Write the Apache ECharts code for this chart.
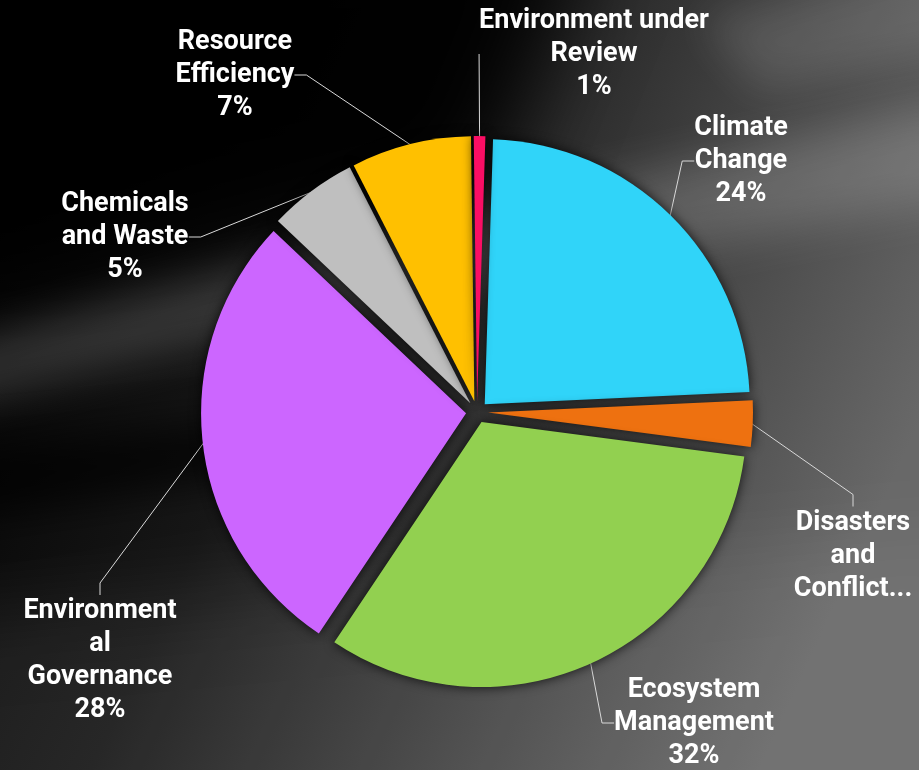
<!DOCTYPE html>
<html>
<head>
<meta charset="utf-8">
<title>Pie</title>
<script src="https://cdn.jsdelivr.net/npm/echarts@6/dist/echarts.min.js"></script>
<style>
    html, body { margin: 0; padding: 0; background: #111; }
    #main { width: 919px; height: 770px; }
</style>
</head>
<body>
<div id="main"></div>
<script>
    var categories = ['Climate Change', 'Disasters and Conflict', 'Ecosystem Management',
        'Environmental Governance', 'Chemicals and Waste', 'Resource Efficiency', 'Environment under Review'];
    var values = [23.7, 2.8, 32.2, 27.6, 5.4, 7.3, 0.7];
    var labelTexts = ['Climate\nChange', 'Disasters\nand\nConflict...', 'Ecosystem\nManagement',
        'Environment\nal\nGovernance', 'Chemicals\nand Waste', 'Resource\nEfficiency', 'Environment under\nReview'];
    var showPercent = [true, false, true, true, true, true, true];
    var colors = ['#30d4f9', '#ee7110', '#92d050', '#cc66ff', '#bfbfbf', '#ffc000', '#fb0e64'];

    // where each label sits (centre of the text block)
    var labelPos = [[741, 161], [853, 556], [694, 723], [100, 661], [125, 237], [235, 75], [594, 54]];

    var myChart = echarts.init(document.getElementById('main'));

    var sliceData = [];
    var labelData = [];
    for (var i = 0; i < categories.length; i++) {
        sliceData.push({
            name: categories[i],
            value: values[i],
            selected: true,
            itemStyle: { color: colors[i] }
        });
        labelData.push({ name: categories[i], value: values[i] });
    }

    // soft background shapes: drawn off screen, only their blurred shadow shows
    function glow(points, color, blur) {
        var shifted = points.map(function (p) { return [p[0] - 3000, p[1]]; });
        return {
            type: 'polygon',
            shape: { points: shifted },
            style: {
                fill: '#000',
                shadowColor: color,
                shadowBlur: blur,
                shadowOffsetX: 3000
            },
            silent: true,
            z: -10
        };
    }

    option = {
        backgroundColor: new echarts.graphic.LinearGradient(0, 0, 1, 0.55, [
            { offset: 0, color: '#000000' },
            { offset: 0.4, color: '#171717' },
            { offset: 0.75, color: '#474747' },
            { offset: 1, color: '#686868' }
        ]),
        graphic: [
            glow([[-100, -100], [600, -100], [480, 200], [0, 290], [-100, 290]], 'rgba(0,0,0,0.95)', 90),
            glow([[-60, 350], [300, 250], [919, 110], [1000, 110], [1000, 190], [300, 320], [-60, 410]], 'rgba(255,255,255,0.17)', 45),
            glow([[700, 20], [1000, -60], [1000, 40], [760, 90]], 'rgba(255,255,255,0.12)', 40),
            glow([[-80, 450], [260, 420], [260, 470], [-80, 530]], 'rgba(0,0,0,0.7)', 40),
            glow([[-100, 620], [1000, 520], [1000, 900], [-100, 900]], 'rgba(255,255,255,0.07)', 80)
        ],
        series: [
            {
                // the exploded slices
                name: 'Share',
                type: 'pie',
                center: [477, 412],
                radius: 265,
                startAngle: 88.2,
                clockwise: true,
                selectedMode: 'multiple',
                selectedOffset: 11,
                animation: false,
                silent: true,
                itemStyle: {
                    shadowBlur: 12,
                    shadowColor: 'rgba(0,0,0,0.8)'
                },
                label: { show: false },
                labelLine: { show: false },
                data: sliceData
            },
            {
                // labels and leader lines only
                name: 'Labels',
                type: 'pie',
                center: [477, 412],
                radius: 275,
                startAngle: 88.2,
                clockwise: true,
                animation: false,
                silent: true,
                itemStyle: { color: 'rgba(0,0,0,0)' },
                label: {
                    show: true,
                    color: '#ffffff',
                    fontFamily: 'Roboto',
                    fontWeight: 'bold',
                    fontSize: 27,
                    lineHeight: 33,
                    align: 'center',
                    formatter: function (p) {
                        var t = labelTexts[p.dataIndex];
                        if (showPercent[p.dataIndex]) {
                            t += '\n' + Math.round(p.percent) + '%';
                        }
                        return t;
                    }
                },
                labelLine: {
                    show: true,
                    length: 20,
                    length2: 12,
                    lineStyle: { color: '#d9d9d9', width: 1 }
                },
                labelLayout: function (params) {
                    var p = labelPos[params.dataIndex];
                    return {
                        x: p[0],
                        y: p[1],
                        align: 'center',
                        verticalAlign: 'middle'
                    };
                },
                data: labelData
            }
        ]
    };
    myChart.setOption(option);
</script>
</body>
</html>
